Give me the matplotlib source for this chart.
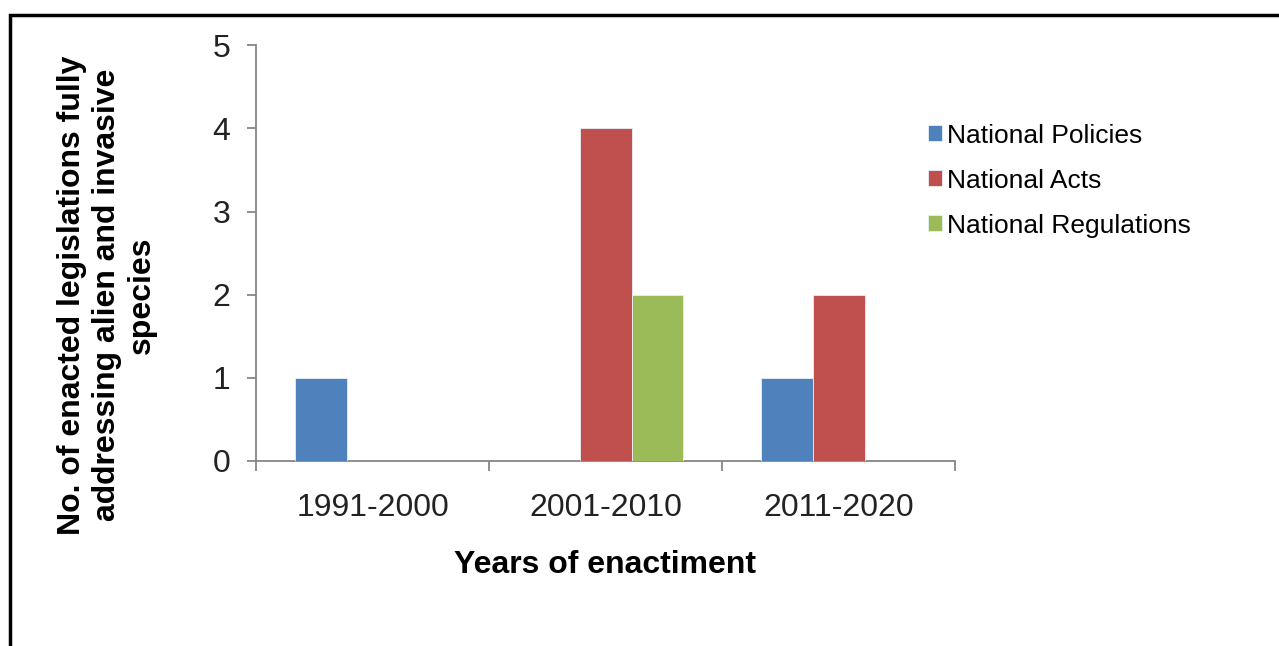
import matplotlib.pyplot as plt
from matplotlib.patches import Rectangle
import numpy as np

plt.rcParams['font.family'] = ['Liberation Sans', 'DejaVu Sans']

periods = ['1991-2000', '2001-2010', '2011-2020']
series = ['National Policies', 'National Acts', 'National Regulations']
policies = [1, 0, 1]
acts = [0, 4, 2]
regulations = [0, 2, 0]
colors = ['#4F81BD', '#C0504D', '#9BBB59']

fig = plt.figure(figsize=(12.79, 6.46), dpi=100)
ax = fig.add_axes([0.2002, 0.2864, 0.5465, 0.6436])

x = np.arange(len(periods)) + 0.5
w = 0.223
for j, (name, vals) in enumerate(zip(series, [policies, acts, regulations])):
    ax.bar(x + (j - 1) * w, vals, width=w, color=colors[j], edgecolor='#e8eef5',
           linewidth=0.6, label=name, zorder=3)

ax.set_xlim(0, 3)
ax.set_ylim(0, 5)
ax.set_yticks(range(6))
ax.set_xticks([0, 1, 2, 3])
ax.set_xticklabels([])
ax.set_xticks(x, minor=True)
ax.set_xticklabels(periods, minor=True)

for s in ['top', 'right']:
    ax.spines[s].set_visible(False)
for s in ['left', 'bottom']:
    ax.spines[s].set_color('#868686')
    ax.spines[s].set_linewidth(1.3)

ax.tick_params(axis='y', direction='out', length=6.5, width=1.3, color='#868686',
               labelsize=23, pad=12, labelcolor='#222222')
ax.tick_params(axis='x', which='major', direction='out', length=7, width=1.3, color='#868686')
ax.tick_params(axis='x', which='minor', length=0, labelsize=23, pad=23, labelcolor='#222222')

fig.text(605.5 / 1279, 1 - 565 / 646, 'Years of enactiment', ha='center', va='center',
         fontsize=23, fontweight='bold')
fig.text(107 / 1279, 1 - 295 / 646,
         'No. of enacted legislations fully\naddressing alien and invasive\nspecies',
         rotation=90, ha='center', va='center', fontsize=23, fontweight='bold',
         linespacing=1.2)

leg = fig.legend(loc='upper left', bbox_to_anchor=(917 / 1279, 1 - 113 / 646),
                 frameon=False, fontsize=19, handlelength=0.55, handleheight=0.55,
                 handletextpad=0.2, labelspacing=0.8, borderaxespad=0)

# outer frame, running off the right and bottom edges
fig.patches.append(Rectangle((9.5 / 1279, -0.1), 1.2, 1 - 14.5 / 646 + 0.1,
                             transform=fig.transFigure, fill=False,
                             edgecolor='black', linewidth=2.5))

fig.savefig('out.png', dpi=100)
